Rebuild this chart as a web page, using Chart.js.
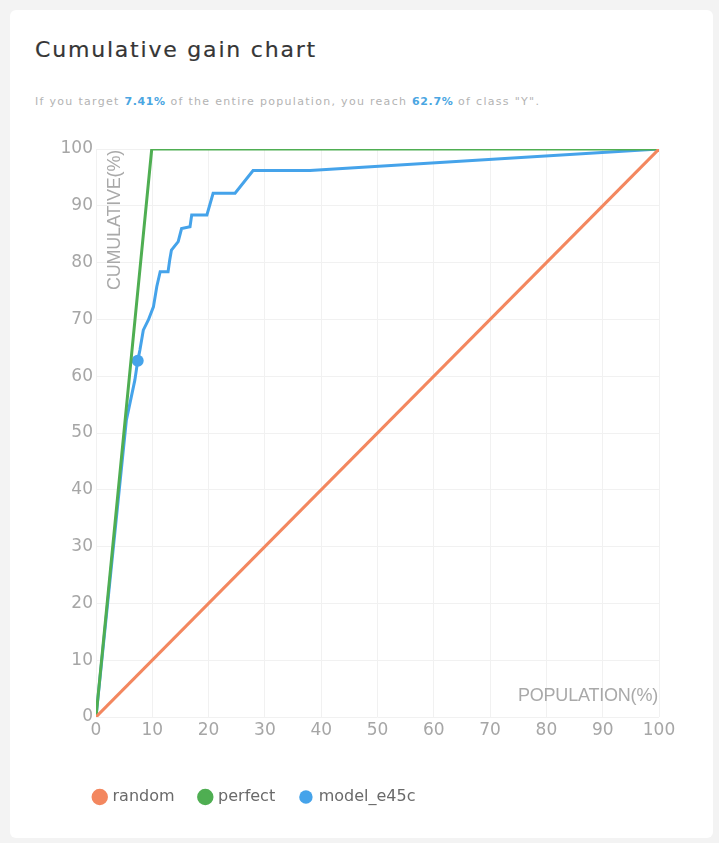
<!DOCTYPE html>
<html>
<head>
<meta charset="utf-8">
<script src="https://cdn.jsdelivr.net/npm/chart.js@4/dist/chart.umd.min.js"></script>
<style>
  html, body { margin: 0; padding: 0; background: #f3f3f3; }
  body { width: 719px; height: 843px; position: relative; overflow: hidden; font-family: "DejaVu Sans", sans-serif; }
  .card { position: absolute; left: 10px; top: 10px; width: 703px; height: 828px; background: #fff; border-radius: 6px; }
  .title { position: absolute; left: 35px; top: 35px; font-size: 22px; letter-spacing: 1.8px; color: #363636; line-height: 30px; white-space: nowrap; -webkit-text-stroke: 0.2px #363636; }
  .subtitle { position: absolute; left: 35px; top: 94px; font-size: 11px; letter-spacing: 1.3px; color: #b3b3b3; line-height: 16px; white-space: nowrap; }
  .subtitle b { color: #4aa6e2; font-weight: bold; letter-spacing: 0.6px; }
  .chart-box { position: absolute; left: 20px; top: 135px; width: 690px; height: 695px; }
</style>
</head>
<body>
<div class="card"></div>
<div class="title">Cumulative gain chart</div>
<div class="subtitle">If you target <b id="tgt"></b> of the entire population, you reach <b id="rch"></b> of class "Y".</div>
<div class="chart-box"><canvas id="gain"></canvas></div>
<script>
// Percent of population targeted vs. percent of class "Y" reached
const randomX = [0, 100];
const randomY = [0, 100];

const perfectX = [0, 9.9, 100];
const perfectY = [0, 100, 100];

const modelX = [0, 5.4, 6.9, 7.41, 7.8, 8.4, 9.3, 10.2, 10.8, 11.4, 12.8, 13.1, 13.4, 14.6, 15.2, 16.7, 17.0, 19.7, 20.8, 24.7, 27.9, 38.0, 100];
const modelY = [0, 52.3, 59.3, 62.7, 64.6, 68.1, 69.9, 72.2, 75.8, 78.4, 78.4, 80.5, 82.2, 83.7, 86.0, 86.3, 88.4, 88.4, 92.2, 92.2, 96.2, 96.2, 100];

const targetPct = 7.41;
const reachPct = 62.7;

const axisTicks = [0, 10, 20, 30, 40, 50, 60, 70, 80, 90, 100];
const xTitle = 'POPULATION(%)';
const yTitle = 'CUMULATIVE(%)';

document.getElementById('tgt').textContent = targetPct + '%';
document.getElementById('rch').textContent = reachPct + '%';

const toPoints = (xs, ys) => xs.map((x, i) => ({ x: x, y: ys[i] }));

const COLORS = { random: '#f3875f', perfect: '#4fae52', model: '#45a3ea' };
const TICK_COLOR = '#a6a6a6';

// Axis titles sit inside the plot area
const innerAxisTitles = {
  id: 'innerAxisTitles',
  beforeDatasetsDraw(chart) {
    const { ctx, chartArea } = chart;
    ctx.save();
    ctx.fillStyle = '#a9a9a9';
    ctx.font = '18px "Liberation Sans", sans-serif';
    if ('letterSpacing' in ctx) ctx.letterSpacing = '-0.2px';
    ctx.textBaseline = 'middle';
    ctx.textAlign = 'right';
    ctx.fillText(xTitle, chartArea.right - 1, chartArea.bottom - 21);
    ctx.translate(chartArea.left + 19, chartArea.top + 1);
    ctx.rotate(-Math.PI / 2);
    ctx.fillText(yTitle, 0, 0);
    ctx.restore();
  }
};

// Legend row starts under the plot rather than at the canvas edge
const legendIndent = {
  id: 'legendIndent',
  afterLayout(chart) {
    if (chart.legend) chart.legend.left += 49;
  }
};

const tickFont = { family: '"DejaVu Sans", sans-serif', size: 17 };

new Chart(document.getElementById('gain'), {
  type: 'line',
  data: {
    datasets: [
      {
        label: 'random',
        data: toPoints(randomX, randomY),
        borderColor: COLORS.random,
        backgroundColor: COLORS.random,
        borderWidth: 3,
        pointRadius: 0,
        pointHoverRadius: 0
      },
      {
        label: 'perfect',
        data: toPoints(perfectX, perfectY),
        borderColor: COLORS.perfect,
        backgroundColor: COLORS.perfect,
        borderWidth: 3,
        pointRadius: 0,
        pointHoverRadius: 0
      },
      {
        label: 'model_e45c',
        data: toPoints(modelX, modelY),
        borderColor: COLORS.model,
        backgroundColor: COLORS.model,
        borderWidth: 3,
        pointRadius: (c) => (c.raw && c.raw.x === targetPct ? 6 : 0),
        pointBorderWidth: 0,
        pointHoverRadius: 0
      }
    ]
  },
  options: {
    responsive: true,
    maintainAspectRatio: false,
    animation: false,
    layout: { padding: { left: 0, right: 51, top: 14, bottom: 15 } },
    plugins: {
      tooltip: { enabled: false },
      legend: {
        position: 'bottom',
        align: 'start',
        labels: {
          usePointStyle: true,
          pointStyle: 'circle',
          boxWidth: 9.5,
          boxHeight: 9.5,
          padding: 26,
          color: '#6a6a6a',
          font: { family: '"DejaVu Sans", sans-serif', size: 16 }
        }
      }
    },
    scales: {
      x: {
        type: 'linear',
        min: 0,
        max: 100,
        afterBuildTicks: (s) => { s.ticks = axisTicks.map(v => ({ value: v })); },
        afterFit: (s) => { s.height = 46; },
        ticks: { color: TICK_COLOR, font: tickFont, padding: 3, maxRotation: 0 },
        grid: { color: '#f1f1f1', drawTicks: false },
        border: { display: false }
      },
      y: {
        type: 'linear',
        min: 0,
        max: 100,
        afterBuildTicks: (s) => { s.ticks = axisTicks.map(v => ({ value: v })); },
        afterFit: (s) => { s.width = 76; },
        ticks: { color: TICK_COLOR, font: tickFont, padding: 3 },
        grid: { color: '#f1f1f1', drawTicks: false },
        border: { display: false }
      }
    }
  },
  plugins: [innerAxisTitles, legendIndent]
});
</script>
</body>
</html>
